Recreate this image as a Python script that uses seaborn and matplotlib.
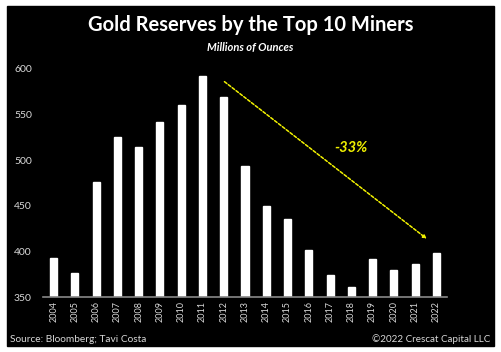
from matplotlib import pyplot as plt
from matplotlib.patches import Rectangle
import pandas as pd
import seaborn as sns

years = [str(y) for y in range(2004, 2023)]
reserves = [393, 376, 476, 525, 514, 542, 561, 592, 569, 494,
            450, 435, 401, 374, 361, 392, 380, 386, 398]
yticks = [350, 400, 450, 500, 550, 600]


if __name__ == "__main__":
    sns.set_style("dark")
    plt.rcParams['font.family'] = ['Lato', 'DejaVu Sans']

    data = pd.DataFrame({'year': years, 'reserves': reserves})

    fig = plt.figure(figsize=(5.01, 3.52), dpi=100)
    fig.patch.set_facecolor('white')
    # black panel inside the thin white border
    fig.patches.append(Rectangle((7 / 501, 6 / 352), 487 / 501, 340 / 352,
                                 transform=fig.transFigure, color='black', zorder=-10))

    ax = fig.add_axes([43 / 501, 55 / 352, 404 / 501, 228 / 352])
    ax.set_zorder(1)
    ax.set_facecolor('black')
    sns.barplot(data=data, x='year', y='reserves', color='white', width=0.33,
                saturation=1, ax=ax)

    ax.set_ylim(350, 600)
    ax.set_xlim(-0.5, 18.5)
    ax.set_yticks(yticks)
    ax.set_xlabel('')
    ax.set_ylabel('')
    ax.grid(False)
    for s in ['top', 'right', 'left']:
        ax.spines[s].set_visible(False)
    ax.spines['bottom'].set_color('#888888')
    ax.spines['bottom'].set_linewidth(1.2)
    ax.tick_params(axis='x', colors='#d9d9d9', labelsize=6.5, rotation=90, length=0, pad=3)
    ax.tick_params(axis='y', colors='#d9d9d9', labelsize=7.5, length=0, pad=8)

    # trend arrow from 2012 down to 2022
    ax.annotate('', xy=(17.65, 412), xytext=(7.93, 588),
                arrowprops=dict(arrowstyle='-|>', color='#f0f000', lw=1.1,
                                linestyle=(0, (2, 1.2)), mutation_scale=5))
    ax.text(14.0, 513, '-33%', color='#f0f000', fontsize=10.5, fontweight='bold',
            fontstyle='italic', ha='center', va='center')

    fig.text(0.5, 1 - 25 / 352, 'Gold Reserves by the Top 10 Miners', color='white',
             fontsize=14.5, fontweight='bold', ha='center', va='center')
    fig.text(0.5, 1 - 48 / 352, 'Millions of Ounces', color='white',
             fontsize=8, fontweight='bold', fontstyle='italic', ha='center', va='center')
    fig.text(10 / 501, 1 - 339 / 352, 'Source: Bloomberg; Tavi Costa', color='#d9d9d9',
             fontsize=7.3, ha='left', va='center')
    fig.text(490 / 501, 1 - 339 / 352, '\u00a92022 Crescat Capital LLC', color='#d9d9d9',
             fontsize=7.1, ha='right', va='center')

    plt.savefig('out.png', dpi=100, facecolor=fig.get_facecolor())
